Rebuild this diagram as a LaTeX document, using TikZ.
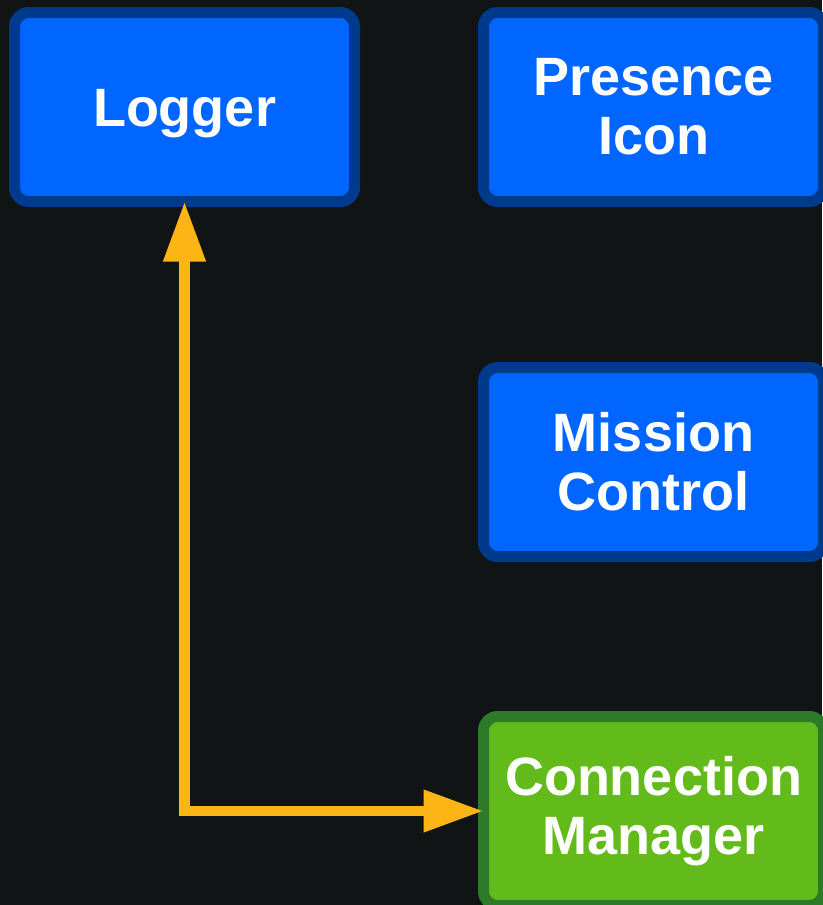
\documentclass[tikz,border=0pt]{standalone}
\usepackage{fontspec}
\setmainfont{Liberation Sans}
\usepackage{xcolor}
\usepackage{tikz}
\usetikzlibrary{arrows.meta}
\definecolor{bg}{HTML}{111415}
\definecolor{bluefill}{HTML}{0066FF}
\definecolor{blueline}{HTML}{003A8C}
\definecolor{greenfill}{HTML}{62BB1A}
\definecolor{greenline}{HTML}{2D7B29}
\definecolor{gold}{HTML}{FDB515}
\tikzset{
  box/.style={draw=blueline, fill=bluefill, line width=11pt, rounded corners=14pt,
    minimum width=340pt, minimum height=189pt, inner sep=0pt, outer sep=0pt,
    align=center, text=white, font=\fontsize{54}{59}\selectfont\bfseries},
  boxg/.style={box, draw=greenline, fill=greenfill},
  link/.style={draw=gold, line width=10.5pt,
    {Triangle[length=60pt,width=40pt]}-{Triangle[length=60pt,width=40pt]}},
}
\begin{document}
\begin{tikzpicture}[x=1pt, y=-1pt]
  \path[use as bounding box, fill=bg] (0,0) rectangle (822,905);
  % components
  \node[box, text height=51pt] (logger) at (184.5,107) {Logger};
  \node[box] (presence) at (653.5,107) {Presence\\Icon};
  \node[box] (mission) at (653.5,462) {Mission\\Control};
  \node[boxg] (connmgr) at (653.5,811) {Connection\\Manager};
  % link
  \draw[link] (logger.south) |- (connmgr.west);
\end{tikzpicture}
\end{document}
